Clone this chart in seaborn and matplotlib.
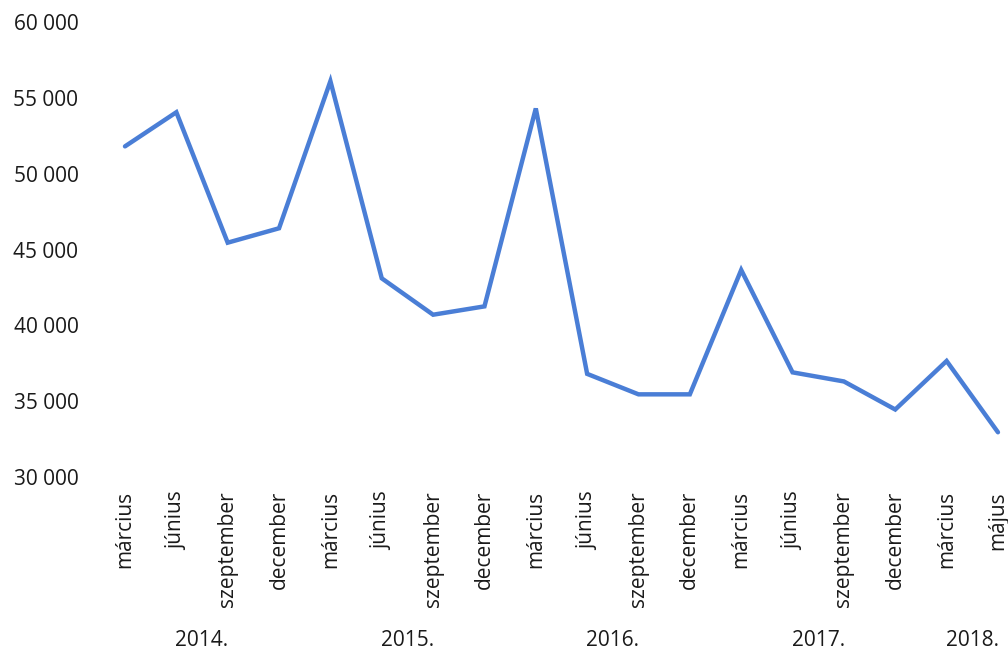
import matplotlib
matplotlib.use("Agg")
import matplotlib.pyplot as plt
import matplotlib.transforms as mtransforms
import seaborn as sns
import pandas as pd

months = ["március", "június", "szeptember", "december",
          "március", "június", "szeptember", "december",
          "március", "június", "szeptember", "december",
          "március", "június", "szeptember", "december",
          "március", "május"]
values = [51800, 54050, 45450, 46400,
          56100, 43100, 40700, 41250,
          54300, 36800, 35450, 35450,
          43650, 36900, 36300, 34450,
          37650, 32950]
years = ["2014.", "2015.", "2016.", "2017.", "2018."]
year_groups = [(0, 3), (4, 7), (8, 11), (12, 15), (16, 17)]
yticks = [30000, 35000, 40000, 45000, 50000, 55000, 60000]

sns.set_theme(style="white")
plt.rcParams["font.family"] = ["Open Sans", "DejaVu Sans"]

W, H = 1008, 653
fig = plt.figure(figsize=(W / 100, H / 100), dpi=100)
step = 51.35
x0 = 125 - 0.5 * step
ax = fig.add_axes([x0 / W, (H - 477) / H, (1008 - x0) / W, 455 / H])

df = pd.DataFrame({"idx": list(range(len(values))), "value": values})
sns.lineplot(data=df, x="idx", y="value", ax=ax, color="#4A7ED6",
             linewidth=3.2, solid_joinstyle="miter")
for l in ax.lines:
    l.set_clip_on(False)

txt = "#1a1a1a"
ax.set_xlim(-0.5, (1008 - x0) / step - 0.5)
ax.set_ylim(30000, 60000)
ax.set_yticks(yticks)
ax.set_yticklabels([f"{v:,}".replace(",", " ") for v in yticks], fontsize=15, color=txt)
ax.set_xticks(range(len(months)))
ax.set_xticklabels(months, rotation=90, fontsize=15, color=txt, va="top")
ax.tick_params(axis="y", length=0, pad=15)
ax.tick_params(axis="x", length=0, pad=10)
ax.set_xlabel("")
ax.set_ylabel("")
for s in ax.spines.values():
    s.set_visible(False)
ax.grid(False)

trans = mtransforms.blended_transform_factory(ax.transData, fig.transFigure)
for yr, (a, b) in zip(years, year_groups):
    ax.text((a + b) / 2, 1 - 640 / H, yr, transform=trans, ha="center", va="center",
            fontsize=15, color=txt)

fig.savefig("out.png", dpi=100)
